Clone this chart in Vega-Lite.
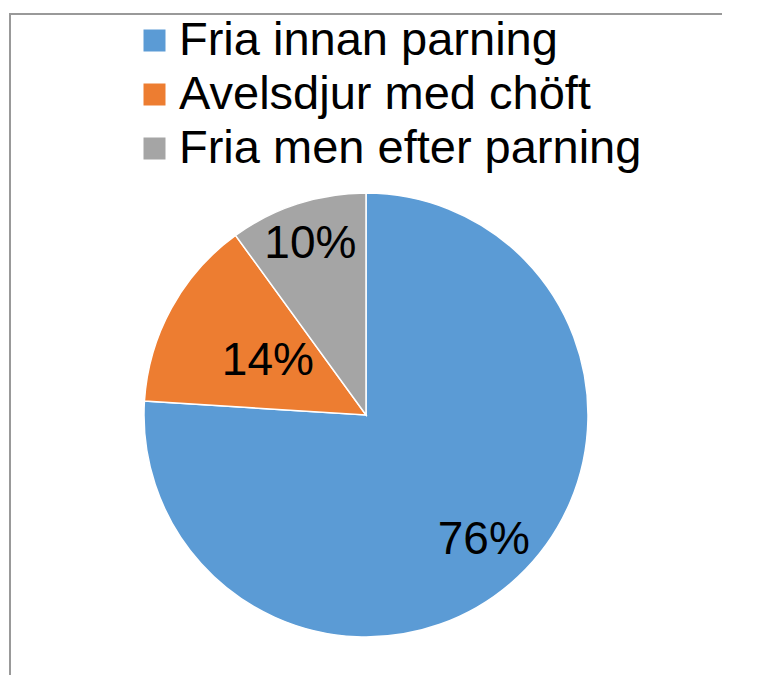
{
  "$schema": "https://vega.github.io/schema/vega-lite/v6.json",
  "autosize": "none",
  "padding": {"left": 10, "top": 14, "right": 41, "bottom": -141},
  "width": 712,
  "height": 802,
  "background": "white",
  "view": {"stroke": "#999999", "strokeWidth": 2, "strokeDash": [712, 1514, 802]},
  "config": {
    "font": "Liberation Sans"
  },
  "data": {
    "values": [
      {"category": "Fria innan parning", "share": 0.76},
      {"category": "Avelsdjur med chöft", "share": 0.14},
      {"category": "Fria men efter parning", "share": 0.10}
    ]
  },
  "encoding": {
    "theta": {"field": "share", "type": "quantitative", "stack": true},
    "order": {"field": "share", "type": "quantitative", "sort": "descending"}
  },
  "layer": [
    {
      "mark": {"type": "arc", "radius": 222, "stroke": "white", "strokeWidth": 1.5},
      "encoding": {
        "color": {
          "field": "category",
          "type": "nominal",
          "scale": {
            "domain": ["Fria innan parning", "Avelsdjur med chöft", "Fria men efter parning"],
            "range": ["#5B9BD5", "#ED7D31", "#A5A5A5"]
          },
          "legend": {
            "orient": "none",
            "legendX": 121,
            "legendY": 3,
            "title": null,
            "symbolType": "square",
            "symbolSize": 484,
            "symbolStrokeWidth": 0,
            "labelFontSize": 47,
            "labelFont": "Liberation Sans",
            "labelColor": "black",
            "labelLimit": 0,
            "labelOffset": 1,
            "rowPadding": 6,
            "padding": 0
          }
        }
      }
    },
    {
      "mark": {"type": "text", "radius": 172, "fontSize": 46, "font": "Liberation Sans", "color": "black"},
      "encoding": {
        "text": {"field": "share", "type": "quantitative", "format": ".0%"},
        "opacity": {"condition": {"test": "datum.category === 'Fria innan parning'", "value": 1}, "value": 0}
      }
    },
    {
      "mark": {"type": "text", "radius": 112, "fontSize": 46, "font": "Liberation Sans", "color": "black"},
      "encoding": {
        "text": {"field": "share", "type": "quantitative", "format": ".0%"},
        "opacity": {"condition": {"test": "datum.category === 'Avelsdjur med chöft'", "value": 1}, "value": 0}
      }
    },
    {
      "mark": {"type": "text", "radius": 180, "fontSize": 46, "font": "Liberation Sans", "color": "black"},
      "encoding": {
        "text": {"field": "share", "type": "quantitative", "format": ".0%"},
        "opacity": {"condition": {"test": "datum.category === 'Fria men efter parning'", "value": 1}, "value": 0}
      }
    }
  ]
}
